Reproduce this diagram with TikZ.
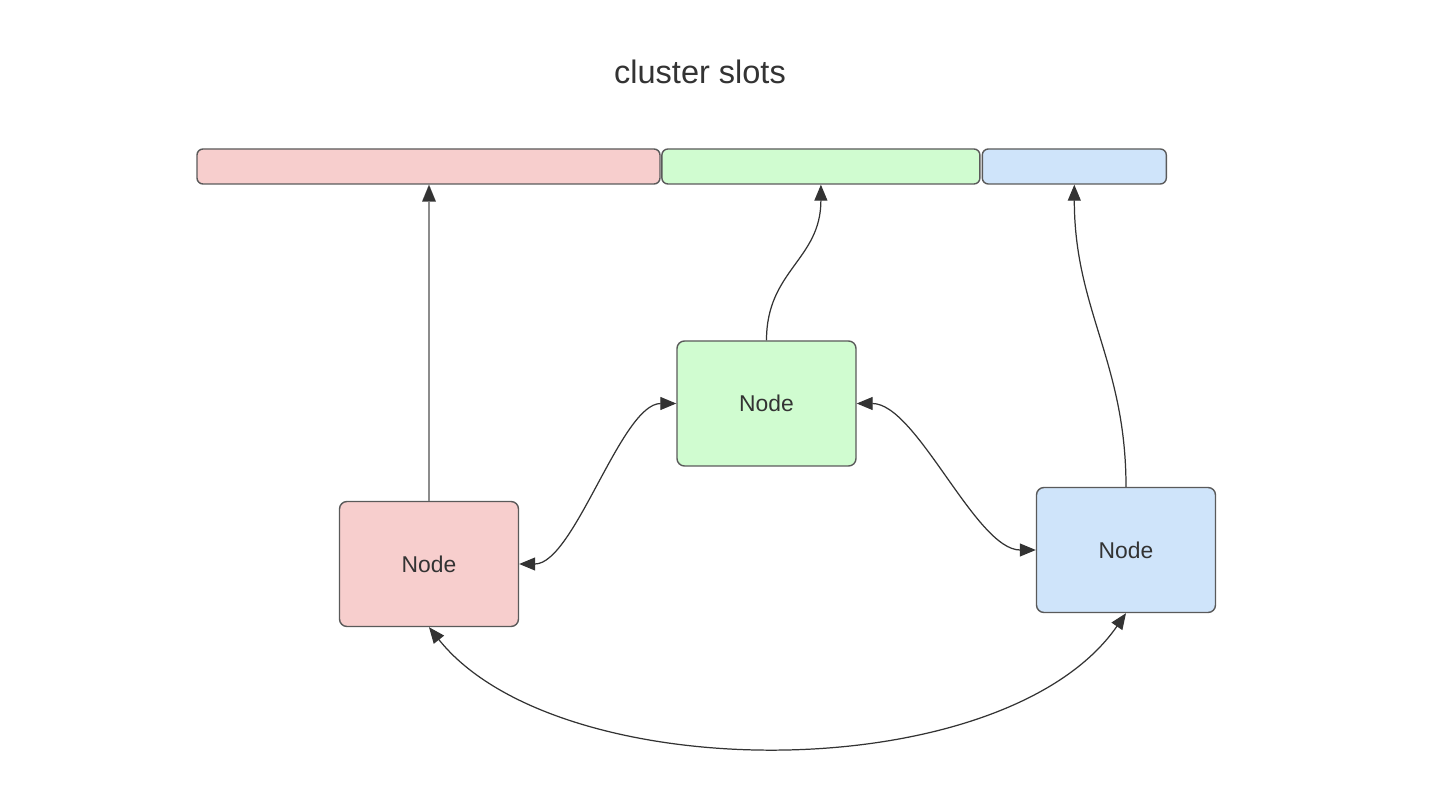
\documentclass[tikz,border=0pt]{standalone}
\usepackage{fontspec}
\setmainfont{Liberation Sans}
\usetikzlibrary{calc, positioning, arrows.meta}
\definecolor{nodered}{RGB}{247, 206, 205}
\definecolor{nodegreen}{RGB}{208, 252, 208}
\definecolor{nodeblue}{RGB}{207, 228, 250}
\definecolor{edgegray}{RGB}{90, 90, 90}
\definecolor{inkgray}{RGB}{51, 51, 51}
\definecolor{linegray}{RGB}{140, 140, 140}
\tikzstyle{slotBar} = [shape=rectangle, draw=edgegray, line width=0.8pt,
	rounded corners=0.12cm, minimum height=0.7cm, inner sep=0pt]
\tikzstyle{serverBox} = [shape=rectangle, draw=edgegray, line width=0.8pt, text=inkgray,
	rounded corners=0.15cm, minimum width=3.58cm, minimum height=2.5cm,
	font=\fontsize{13}{15}\selectfont]
\tikzstyle{linkArrow} = [line width=0.7pt, draw=inkgray,
	-{Triangle[length=0.32cm, width=0.26cm]}]
\tikzstyle{twoWayArrow} = [linkArrow, {Triangle[length=0.32cm, width=0.26cm]}-{Triangle[length=0.32cm, width=0.26cm]}]
\tikzstyle{plainArrow} = [line width=1pt, draw=linegray,
	-{Triangle[length=0.34cm, width=0.28cm, fill=inkgray, line width=0.01pt]}]

\begin{document}
\begin{tikzpicture}
  \useasboundingbox (0,0) rectangle (28.8,15.84);

  \node (TITLE) at (14.0,14.4) [text=inkgray, font=\fontsize{18.5}{21}\selectfont] {cluster slots};

  \node (SLOTR) at (8.57,12.51) [slotBar, fill=nodered, minimum width=9.26cm] {};
  \node (SLOTG) [slotBar, fill=nodegreen, minimum width=6.36cm, right=0.01cm of SLOTR] {};
  \node (SLOTB) [slotBar, fill=nodeblue, minimum width=3.68cm, right=0.02cm of SLOTG] {};

  \node (NODER) at (8.58,4.56)  [serverBox, fill=nodered] {Node};
  \node (NODEG) at (15.33,7.77) [serverBox, fill=nodegreen] {Node};
  \node (NODEB) at (22.52,4.84) [serverBox, fill=nodeblue] {Node};

  \draw [plainArrow] (NODER.north) -- (NODER.north |- SLOTR.south);
  \draw [linkArrow] (NODEG.north) .. controls +(0,1.4) and +(0,-1.5) .. (SLOTG.south);
  \draw [linkArrow] (NODEB.north) .. controls +(0,2.5) and +(0,-2.5) .. (SLOTB.south);

  \draw [twoWayArrow] (NODER.east) .. controls +(1.1,0) and +(-1.1,0) .. (NODEG.west);
  \draw [twoWayArrow] (NODEG.east) .. controls +(1.2,0) and +(-1.2,0) .. (NODEB.west);
  \draw [twoWayArrow] (NODER.south) .. controls +(2.58,-3.24) and +(-2.44,-3.52) .. (NODEB.south);

\end{tikzpicture}
\end{document}
